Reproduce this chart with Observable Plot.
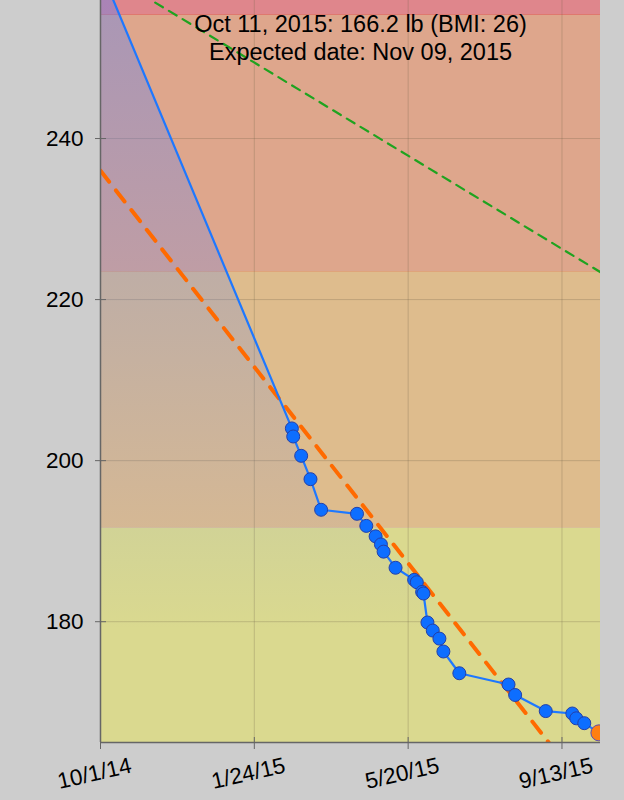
<!DOCTYPE html>
<html>
<head>
<meta charset="utf-8">
<script src="https://cdn.jsdelivr.net/npm/d3@7"></script>
<script src="https://cdn.jsdelivr.net/npm/@observablehq/plot@0.6"></script>
<style>
  html, body { margin: 0; padding: 0; background: #cdcdcd; }
  #chart { width: 624px; height: 800px; }
</style>
</head>
<body>
<div id="chart"></div>
<script>
// ---- data ----
const dates = [
  "2014-10-01", "2015-02-22", "2015-02-23", "2015-03-01", "2015-03-08", "2015-03-16",
  "2015-04-12", "2015-04-19", "2015-04-26", "2015-04-30", "2015-05-02", "2015-05-11",
  "2015-05-25", "2015-05-27", "2015-05-31", "2015-06-01", "2015-06-04", "2015-06-08",
  "2015-06-13", "2015-06-16", "2015-06-28", "2015-08-04", "2015-08-09", "2015-09-01",
  "2015-09-21", "2015-09-24", "2015-09-30", "2015-10-11"
];
const weights = [
  261.0, 204.0, 203.0, 200.6, 197.7, 193.9,
  193.4, 191.9, 190.6, 189.6, 188.7, 186.7,
  185.2, 184.9, 183.7, 183.5, 179.9, 178.9,
  177.9, 176.3, 173.6, 172.2, 170.9, 168.9,
  168.6, 168.0, 167.4, 166.2
];
const goalDates = ["2014-10-01", "2015-10-12T05:00Z"];
const goalWeights = [261.0, 223.4];
const trendDates = ["2014-10-01", "2015-10-12T05:00Z"];
const trendWeights = [236.0, 156.8];

const bandLow = [159.6, 191.6, 223.5, 255.4];
const bandHigh = [191.6, 223.5, 255.4, 300];
const bandColors = ["#dad98f", "#debc8d", "#dea68c", "#df868c"];

const xTickDates = ["2014-10-01T00:00Z", "2015-01-24T17:46Z", "2015-05-20T11:33Z", "2015-09-13T05:20Z"];
const xTickLabels = ["10/1/14", "1/24/15", "5/20/15", "9/13/15"];
const yTicks = [180, 200, 220, 240];
const infoLines = ["Oct 11, 2015: 166.2 lb (BMI: 26)", "Expected date: Nov 09, 2015"];

const xDomain = [new Date("2014-10-01T00:00Z"), new Date("2015-10-12T05:00Z")];
const yDomain = [165, 257.14];

// ---- tables ----
const series = dates.map((d, i) => ({date: new Date(d), weight: weights[i]}));
const goal = goalDates.map((d, i) => ({date: new Date(d), weight: goalWeights[i]}));
const trend = trendDates.map((d, i) => ({date: new Date(d), weight: trendWeights[i]}));
const bands = bandLow.map((lo, i) => ({x1: xDomain[0], x2: xDomain[1], y1: lo, y2: bandHigh[i], color: bandColors[i]}));
const xTicks = xTickDates.map((d, i) => ({date: new Date(d), label: xTickLabels[i]}));

const defsMark = () => {
  const ns = "http://www.w3.org/2000/svg";
  const defs = document.createElementNS(ns, "defs");
  const g = document.createElementNS(ns, "linearGradient");
  g.setAttribute("id", "wgrad");
  g.setAttribute("gradientUnits", "userSpaceOnUse");
  g.setAttribute("x1", 0); g.setAttribute("y1", 0);
  g.setAttribute("x2", 0); g.setAttribute("y2", 742);
  [[0, 0.4], [0.45, 0.2], [0.85, 0]].forEach(([o, a]) => {
    const s = document.createElementNS(ns, "stop");
    s.setAttribute("offset", o);
    s.setAttribute("stop-color", "#5a80f5");
    s.setAttribute("stop-opacity", a);
    g.appendChild(s);
  });
  defs.appendChild(g);
  return defs;
};

const font = "'Liberation Sans', Arial, Helvetica, sans-serif";

const chart = Plot.plot({
  width: 624,
  height: 800,
  marginLeft: 100,
  marginRight: 24,
  marginTop: 0,
  marginBottom: 58,
  style: {background: "#cdcdcd", fontFamily: font, color: "black"},
  x: {type: "utc", domain: xDomain, axis: null},
  y: {domain: yDomain, axis: null},
  marks: [
    defsMark,
    Plot.rect(bands, {x1: "x1", x2: "x2", y1: "y1", y2: "y2", fill: "color", clip: true}),
    Plot.ruleY([bandLow[3]], {stroke: "#e05a5a", strokeOpacity: 0.6, clip: true}),
    Plot.ruleY([bandLow[2]], {stroke: "#e07a60", strokeOpacity: 0.4, clip: true}),
    Plot.ruleX(xTicks, {x: "date", stroke: "#6e6048", strokeOpacity: 0.28}),
    Plot.ruleY(yTicks, {stroke: "#6e6048", strokeOpacity: 0.28}),
    Plot.areaY(series, {x: "date", y1: yDomain[0], y2: "weight", fill: "url(#wgrad)", clip: true}),
    Plot.line(goal, {x: "date", y: "weight", stroke: "#1fa31f", strokeWidth: 2.2, strokeDasharray: "9,7", clip: true}),
    Plot.line(trend, {x: "date", y: "weight", stroke: "#ff6a00", strokeWidth: 4, strokeDasharray: "14,11", clip: true}),
    Plot.line(series, {x: "date", y: "weight", stroke: "#1e78ff", strokeWidth: 2.2, clip: true}),
    Plot.dot(series.slice(1, -1), {x: "date", y: "weight", r: 6.5, fill: "#0d6eff", stroke: "#2440a8", strokeWidth: 1, clip: true}),
    Plot.dot(series.slice(-1), {x: "date", y: "weight", r: 8, fill: "#ff7f12", stroke: "#5b4db5", strokeWidth: 1, clip: true}),
    Plot.ruleX([xDomain[0]], {stroke: "#666", strokeWidth: 1.5}),
    Plot.ruleY([yDomain[0]], {stroke: "#666", strokeWidth: 1.5}),
    Plot.axisY({ticks: yTicks, tickSize: 11, dx: 6, tickFormat: () => "", label: null, stroke: "#666"}),
    Plot.axisY({ticks: yTicks, tickSize: 0, tickPadding: 17, fontSize: 22.5, label: null, fill: "black", tickFormat: d => String(d)}),
    Plot.axisX({ticks: xTicks.map(d => d.date), tickSize: 12, dy: -5, tickFormat: () => "", label: null, stroke: "#666"}),
    Plot.text(xTicks, {x: "date", text: "label", frameAnchor: "bottom", dy: 31, dx: -6, rotate: -13, fontSize: 22.5, textAnchor: "middle", lineAnchor: "middle", fill: "black"}),
    Plot.text([infoLines.join("\n")], {frameAnchor: "top", dx: 10, dy: 11.5, fontSize: 23.5, lineAnchor: "top", lineHeight: 1.2, fill: "black", text: d => d})
  ]
});
document.getElementById("chart").appendChild(chart);
</script>
</body>
</html>
